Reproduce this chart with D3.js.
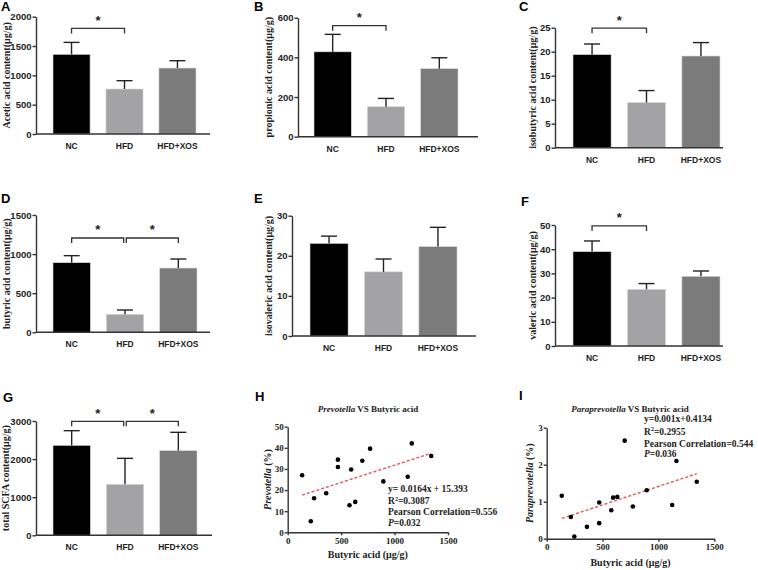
<!DOCTYPE html>
<html>
<head>
<meta charset="utf-8">
<script src="https://cdn.jsdelivr.net/npm/d3@7"></script>
<style>
  body { margin: 0; background: #fff; }
  svg { display: block; }
  .axis path, .axis line { stroke: #333; stroke-width: 1.4px; }
  .bar-axis .tick text { font-family: "Liberation Sans", Arial, sans-serif; font-weight: bold; font-size: 9.5px; fill: #222; }
  .sc-axis .tick text { font-family: "Liberation Serif", "Times New Roman", serif; font-weight: bold; font-size: 9px; fill: #222; }
  .cat { font-family: "Liberation Sans", Arial, sans-serif; font-weight: bold; font-size: 8.5px; fill: #222; }
  .ylab { font-family: "Liberation Serif", "Times New Roman", serif; font-weight: bold; font-size: 10px; fill: #222; }
  .letter { font-family: "Liberation Sans", Arial, sans-serif; font-weight: bold; font-size: 13px; fill: #000; }
  .star { font-family: "Liberation Sans", Arial, sans-serif; font-weight: bold; font-size: 13px; fill: #222; }
  .serif { font-family: "Liberation Serif", "Times New Roman", serif; font-weight: bold; font-size: 9px; fill: #222; }
  .stat { font-size: 9.5px; }
  .xlab { font-size: 10px; }
</style>
</head>
<body>
<script>
// groups and bar values (mean, error)
var groups = ["NC", "HFD", "HFD+XOS"];
var colors = ["#000000", "#a3a3a6", "#7b7b7b"];

var aceticMean = [1358, 767, 1125];
var aceticErr = [204, 142, 125];
var propionicMean = [428, 151, 343];
var propionicErr = [88, 42, 55];
var isobutyricMean = [19.4, 9.4, 19.1];
var isobutyricErr = [2.2, 2.5, 2.8];
var butyricMean = [890, 230, 822];
var butyricErr = [90, 55, 115];
var isovalericMean = [23.1, 16.0, 22.3];
var isovalericErr = [1.8, 3.2, 4.8];
var valericMean = [39.0, 23.4, 28.8];
var valericErr = [4.4, 2.4, 2.2];
var totalMean = [2361, 1338, 2222];
var totalErr = [385, 682, 481];

// scatter samples
var butyricX = [135, 216, 247, 360, 470, 470, 578, 594, 632, 698, 771, 895, 1123, 1161, 1343];
var prevotellaY = [27.0, 5.2, 16.1, 18.5, 34.4, 30.9, 12.8, 29.7, 14.4, 33.9, 39.6, 24.1, 26.3, 42.1, 36.1];
var paraprevotellaY = [1.16, 0.585, 0.06, 0.32, 0.98, 0.42, 0.77, 1.11, 1.13, 2.65, 0.87, 1.31, 0.91, 2.10, 1.54];
var prevotellaFit = [0.0164, 15.393];
var paraprevotellaFit = [0.001, 0.4134];
var scatterTicksX = [0, 500, 1000, 1500];

var svg = d3.select("body").append("svg")
    .attr("width", 758)
    .attr("height", 570);

var plain = function(d) { return String(d); };

function barPanel(p) {
    var g = svg.append("g");
    var y = d3.scaleLinear().domain([0, p.max]).range([p.bottom, p.top]);
    var x = d3.scaleBand().domain(groups).range([p.b0, p.b1]).paddingInner(0.3).paddingOuter(0);

    // bars
    g.selectAll("rect.bar")
        .data(p.mean)
        .enter().append("rect")
        .attr("x", function(d, i) { return x(groups[i]); })
        .attr("y", function(d) { return y(d); })
        .attr("width", x.bandwidth())
        .attr("height", function(d) { return y(0) - y(d); })
        .attr("fill", function(d, i) { return colors[i]; })
        .attr("stroke", "#d8d8d8")
        .attr("stroke-width", 0.6);

    // error bars (upper only)
    p.mean.forEach(function(m, i) {
        var cx = x(groups[i]) + x.bandwidth() / 2;
        g.append("line").attr("x1", cx).attr("x2", cx)
            .attr("y1", y(m)).attr("y2", y(m + p.err[i]))
            .attr("stroke", "#222").attr("stroke-width", 1.4);
        g.append("line").attr("x1", cx - 8).attr("x2", cx + 8)
            .attr("y1", y(m + p.err[i])).attr("y2", y(m + p.err[i]))
            .attr("stroke", "#222").attr("stroke-width", 1.4);
    });

    // y axis
    g.append("g").attr("class", "axis bar-axis")
        .attr("transform", "translate(" + p.x0 + ",0)")
        .call(d3.axisLeft(y).tickValues(d3.range(0, p.max + p.step / 2, p.step))
            .tickFormat(plain).tickSize(3.5).tickSizeOuter(0).tickPadding(1));

    // x axis line and labels
    g.append("line").attr("class", "axis")
        .attr("x1", p.x0).attr("x2", p.x1)
        .attr("y1", p.bottom).attr("y2", p.bottom)
        .attr("stroke", "#333").attr("stroke-width", 1.4);
    g.selectAll("text.cat")
        .data(groups)
        .enter().append("text")
        .attr("class", "cat")
        .attr("x", function(d) { return x(d) + x.bandwidth() / 2; })
        .attr("y", p.bottom + 15)
        .attr("text-anchor", "middle")
        .text(function(d) { return d; });

    // y label
    g.append("text").attr("class", "ylab")
        .attr("transform", "translate(" + p.labX + "," + ((p.top + p.bottom) / 2) + ") rotate(-90)")
        .attr("text-anchor", "middle")
        .attr("dominant-baseline", "central")
        .text(p.label);

    // panel letter
    g.append("text").attr("class", "letter")
        .attr("x", p.letter[0]).attr("y", p.letter[1]).text(p.id);

    // significance brackets
    p.sig.forEach(function(s) {
        var by = y(s[2]);
        var xa = x(groups[s[0]]) + x.bandwidth() / 2;
        var xb = x(groups[s[1]]) + x.bandwidth() / 2;
        if (p.sig.length > 1) {
            if (s[0] === 1) xa += 1.3;
            if (s[1] === 1) xb -= 1.3;
        }
        g.append("path")
            .attr("d", "M" + xa + "," + (by + 5) + "V" + by + "H" + xb + "V" + (by + 5))
            .attr("fill", "none").attr("stroke", "#333").attr("stroke-width", 1.3);
        g.append("text").attr("class", "star")
            .attr("x", (xa + xb) / 2).attr("y", by - 3.5)
            .attr("text-anchor", "middle").text("*");
    });
}

barPanel({id: "A", mean: aceticMean, err: aceticErr, label: "Acetic acid content(μg/g)",
    max: 2000, step: 500, x0: 36, x1: 210, top: 16.7, bottom: 134, b0: 53, b1: 196,
    labX: 6, letter: [1, 11], sig: [[0, 1, 1800]]});
barPanel({id: "B", mean: propionicMean, err: propionicErr, label: "propionic acid content(μg/g)",
    max: 600, step: 200, x0: 298, x1: 478, top: 17.7, bottom: 136.7, b0: 314, b1: 458,
    labX: 268, letter: [254, 11], sig: [[0, 1, 560]]});
barPanel({id: "C", mean: isobutyricMean, err: isobutyricErr, label: "isobutyric acid content(μg/g)",
    max: 25, step: 5, x0: 555, x1: 723, top: 27.7, bottom: 147.7, b0: 573, b1: 720,
    labX: 532, letter: [519, 11], sig: [[0, 1, 24.9]]});
barPanel({id: "D", mean: butyricMean, err: butyricErr, label: "butyric acid content(μg/g)",
    max: 1500, step: 500, x0: 36, x1: 210, top: 215, bottom: 332.3, b0: 53, b1: 197,
    labX: 6, letter: [1, 203], sig: [[0, 1, 1206], [1, 2, 1206]]});
barPanel({id: "E", mean: isovalericMean, err: isovalericErr, label: "isovaleric acid content(μg/g)",
    max: 30, step: 10, x0: 292, x1: 476, top: 215.7, bottom: 336, b0: 310, b1: 457,
    labX: 268, letter: [254, 203], sig: []});
barPanel({id: "F", mean: valericMean, err: valericErr, label: "valeric acid content(μg/g)",
    max: 50, step: 10, x0: 555, x1: 723, top: 225, bottom: 346, b0: 573, b1: 720,
    labX: 532, letter: [521, 206], sig: [[0, 1, 49.6]]});
barPanel({id: "G", mean: totalMean, err: totalErr, label: "total SCFA content(μg/g)",
    max: 3000, step: 1000, x0: 36, x1: 212, top: 421, bottom: 535.3, b0: 53, b1: 197,
    labX: 5, letter: [3, 402], sig: [[0, 1, 2992], [1, 2, 2992]]});

function scatterPanel(p) {
    var g = svg.append("g");
    var x = d3.scaleLinear().domain([0, 1500]).range([p.x0, p.x1]);
    var y = d3.scaleLinear().domain([0, p.max]).range([p.bottom, p.top]);

    g.append("g").attr("class", "axis sc-axis")
        .attr("transform", "translate(0," + p.bottom + ")")
        .call(d3.axisBottom(x).tickValues(scatterTicksX).tickFormat(plain)
            .tickSize(3).tickSizeOuter(0).tickPadding(2));
    g.append("g").attr("class", "axis sc-axis")
        .attr("transform", "translate(" + p.x0 + ",0)")
        .call(d3.axisLeft(y).tickValues(d3.range(0, p.max + p.step / 2, p.step))
            .tickFormat(plain).tickSize(3).tickSizeOuter(0).tickPadding(1));

    // fit line
    var ext = d3.extent(p.xs);
    g.append("line")
        .attr("x1", x(ext[0])).attr("y1", y(p.fit[0] * ext[0] + p.fit[1]))
        .attr("x2", x(ext[1])).attr("y2", y(p.fit[0] * ext[1] + p.fit[1]))
        .attr("stroke", "#e2575a").attr("stroke-width", 1.4)
        .attr("stroke-dasharray", "3,2");

    g.selectAll("circle")
        .data(p.xs)
        .enter().append("circle")
        .attr("cx", function(d) { return x(d); })
        .attr("cy", function(d, i) { return y(p.ys[i]); })
        .attr("r", 2.3)
        .attr("fill", "#000");

    // title
    var t = g.append("text").attr("class", "serif")
        .attr("x", p.titleX).attr("y", p.titleY).attr("text-anchor", "middle");
    t.append("tspan").attr("font-style", "italic").text(p.genus);
    t.append("tspan").text(" VS Butyric acid");

    // x label
    g.append("text").attr("class", "serif xlab")
        .attr("x", (p.x0 + p.x1) / 2).attr("y", p.xlabY).attr("text-anchor", "middle")
        .text("Butyric acid (μg/g)");

    // y label
    var yl = g.append("text").attr("class", "serif xlab")
        .attr("transform", "translate(" + p.ylabX + "," + ((p.top + p.bottom) / 2) + ") rotate(-90)")
        .attr("text-anchor", "middle").attr("dominant-baseline", "central");
    yl.append("tspan").attr("font-style", "italic").text(p.genus);
    yl.append("tspan").text(" (%)");

    // statistics text
    var lines = p.stats;
    g.append("text").attr("class", "serif stat").attr("x", p.statX).attr("y", p.statY[0]).text(lines[0]);
    var r2 = g.append("text").attr("class", "serif stat").attr("x", p.statX).attr("y", p.statY[1]);
    r2.append("tspan").text("R");
    r2.append("tspan").attr("dy", -3.5).attr("font-size", "6px").text("2");
    r2.append("tspan").attr("dy", 3.5).text("=" + lines[1]);
    g.append("text").attr("class", "serif stat").attr("x", p.statX).attr("y", p.statY[2])
        .text("Pearson Correlation=" + lines[2]);
    var pv = g.append("text").attr("class", "serif stat").attr("x", p.statX).attr("y", p.statY[3]);
    pv.append("tspan").attr("font-style", "italic").text("P");
    pv.append("tspan").text("=" + lines[3]);

    g.append("text").attr("class", "letter")
        .attr("x", p.letter[0]).attr("y", p.letter[1]).text(p.id);
}

scatterPanel({id: "H", genus: "Prevotella", xs: butyricX, ys: prevotellaY, fit: prevotellaFit,
    max: 50, step: 10, x0: 287.7, x1: 448, top: 426.7, bottom: 532.3,
    titleX: 368, titleY: 412, xlabY: 558, ylabX: 267,
    stats: ["y= 0.0164x + 15.393", "0.3087", "0.556", "0.032"],
    statX: 388, statY: [492, 504, 515, 526], letter: [255, 401]});
scatterPanel({id: "I", genus: "Paraprevotella", xs: butyricX, ys: paraprevotellaY, fit: paraprevotellaFit,
    max: 3, step: 1, x0: 546.7, x1: 714.3, top: 427.7, bottom: 538.7,
    titleX: 630, titleY: 412, xlabY: 566, ylabX: 529,
    stats: ["y=0.001x+0.4134", "0.2955", "0.544", "0.036"],
    statX: 644, statY: [422, 434.5, 447, 457], letter: [519, 400]});
</script>
</body>
</html>
